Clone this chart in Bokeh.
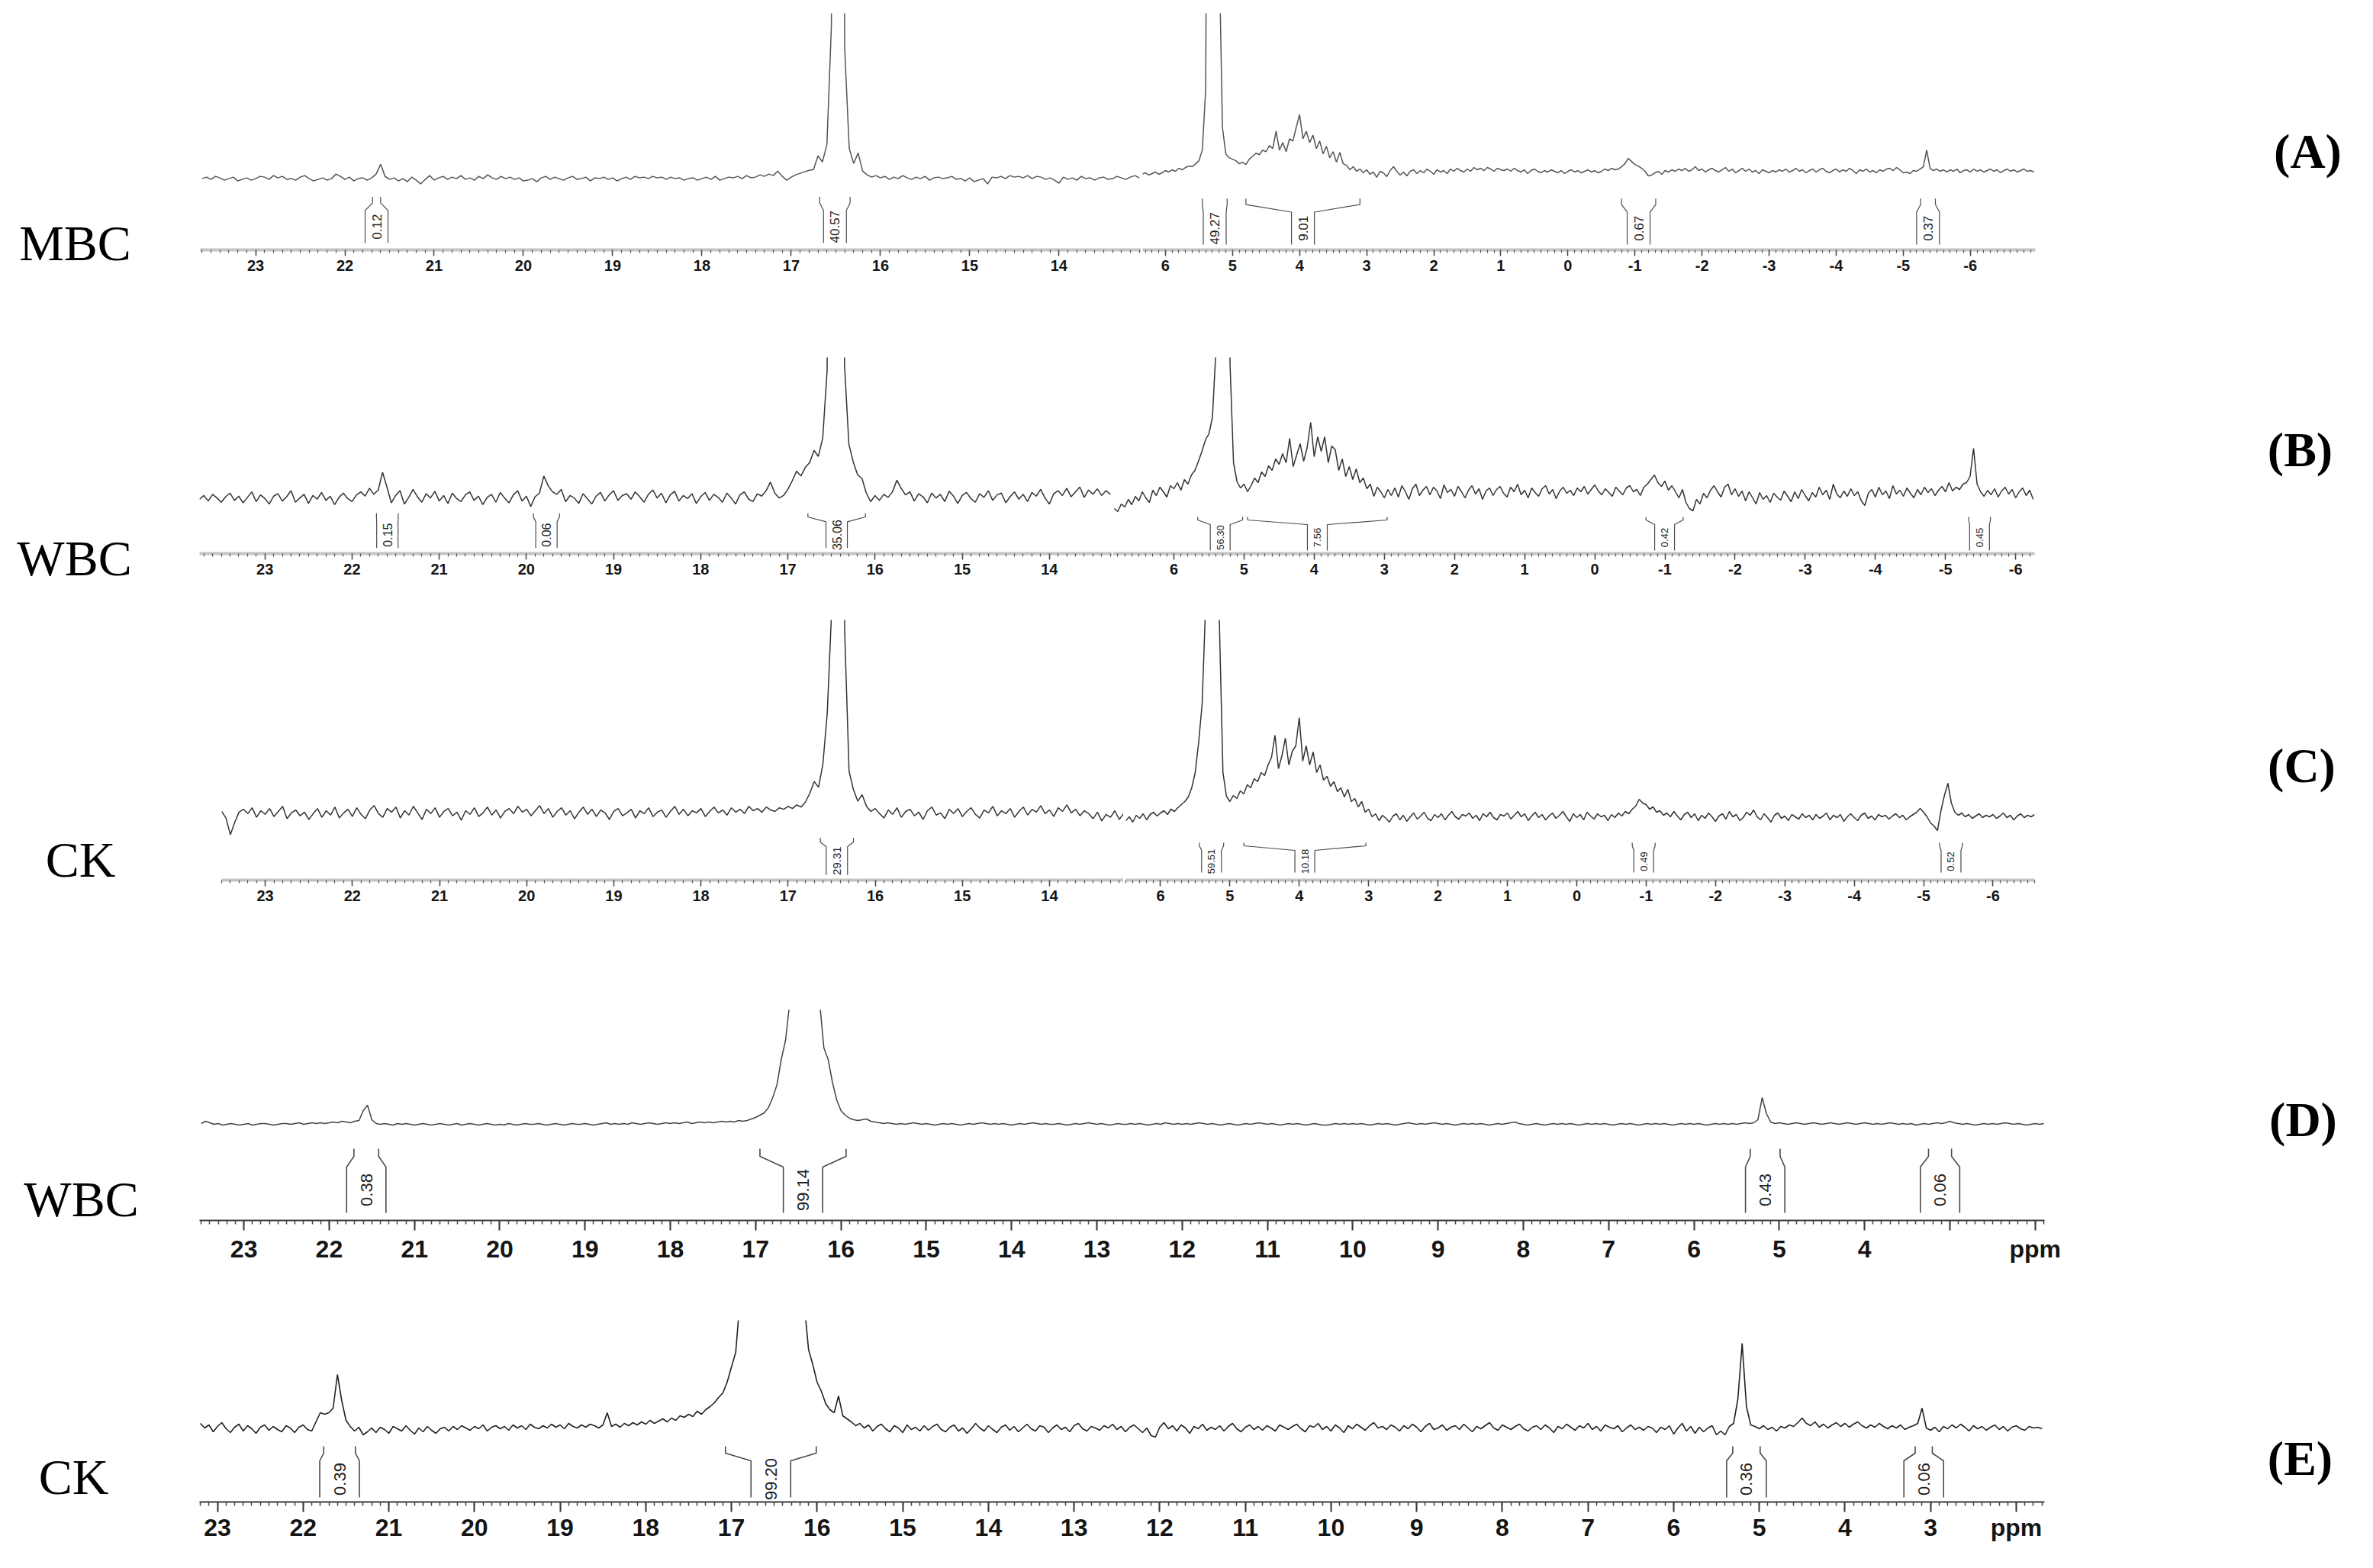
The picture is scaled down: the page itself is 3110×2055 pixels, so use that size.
import numpy as np
from bokeh.plotting import figure
from bokeh.layouts import row, column
from bokeh.models import Range1d, SingleIntervalTicker
from bokeh.core.properties import value
from bokeh.embed import file_html
from bokeh.resources import INLINE

# ---------------- data (intensities, a.u. above each baseline) -------------
PPM_STEP = 0.05

sample_names = ["MBC", "WBC", "CK", "WBC", "CK"]
panel_tags = ["(A)", "(B)", "(C)", "(D)", "(E)"]

# Panel A (MBC) - left segment 23.60 -> 13.10 ppm
A_left_start = 23.60
A_left_int = [
    0, 2, -1, 3, 1, -2, 0, 2, -3, -1,
    1, -2, 0, 3, 2, -1, 4, 1, 3, -1,
    0, -2, 2, 4, 0, -3, -1, 1, -2, 0,
    6, 3, -1, 2, -3, 0, 1, -2, 1, 6,
    19, 3, -1, 1, -3, 0, -4, 2, -2, -7,
    -1, 4, -2, 1, 3, -1, 2, 0, 4, -1,
    1, -2, 3, 0, 5, 1, -1, 3, 0, 2,
    -1, 1, -3, -2, 0, -4, 1, 3, -1, 2,
    0, -2, 1, 3, -1, 0, 2, -3, 1, 0,
    2, -1, 1, -3, 0, 2, -1, 3, 1, 2,
    0, 3, 1, 2, -1, 2, 0, 1, -2, 0,
    1, -2, 0, 2, -1, 3, -2, 0, 2, 1,
    3, 0, 4, 1, 2, 5, 3, 6, 4, 10,
    3, -2, 2, 5, 7, 9, 11, 12, 30, 22,
    45, 200, 999, 999, 170, 40, 20, 34, 10, 5,
    2, 4, 1, 3, -1, 2, 0, 4, 1, -1,
    2, 0, 3, -2, 1, 2, 0, 1, 3, -1,
    0, -3, 1, -4, -2, 0, -7, 2, 1, 3,
    0, 4, 2, 3, 1, 4, 0, 3, 2, -1,
    1, -2, -6, 2, -1, 1, -2, 3, 0, 1,
    -2, 1, 2, -1, 0, 3, 1, -1, 2, 4,
    1]
# Panel A - right segment 6.35 -> -6.95 ppm
A_right_start = 6.35
A_right_int = [
    -2, 0, -3, -1, 1, -2, 0, 3, 1, 4,
    2, 6, 4, 7, 9, 8, 12, 16, 30, 110,
    999, 999, 999, 300, 60, 25, 20, 18, 16, 12,
    14, 11, 18, 22, 26, 24, 30, 28, 36, 32,
    55, 30, 40, 28, 45, 42, 60, 77, 45, 55,
    40, 50, 32, 42, 25, 35, 20, 28, 14, 27,
    12, 10, 4, 8, 2, 5, 0, 4, -2, 1,
    -6, 2, 0, -5, 3, 8, 2, -3, 1, -4,
    2, 4, -1, 3, 0, 5, 2, -2, 4, 1,
    3, -1, 5, 2, 6, 3, 1, 5, 2, 7,
    4, 6, 3, 7, 5, 2, 6, 4, 3, 5,
    2, 6, 3, 1, 4, -1, 3, 5, 2, 0,
    3, 1, 4, 2, 0, 3, -1, 2, 4, 1,
    3, 0, 2, 4, 1, 3, 0, 2, 5, 3,
    6, 4, 5, 8, 12, 19, 15, 11, 9, 6,
    2, -4, -3, 0, 2, -2, 3, 1, 4, 2,
    5, 3, 6, 2, 4, 8, 3, 5, 1, 4,
    6, 3, 1, 4, 7, 2, 5, 0, 3, 6,
    2, 5, 1, 3, -1, 4, 2, 0, 3, 1,
    4, 2, 5, 1, 3, 6, 2, 4, 0, 3,
    5, 1, 4, 6, 2, 0, 3, 5, 1, 4,
    2, 6, 3, -1, 4, 2, 5, 1, 3, 0,
    4, 2, 5, 6, 3, 7, 4, 0, 1, -1,
    3, 2, 5, 8, 30, 6, 3, 5, 2, 4,
    1, 4, 2, 5, 0, 3, 4, 1, 5, 2,
    4, 1, 3, 5, 2, 4, 0, 3, 5, 2,
    4, 1, 3, 5, 2, 3, 1]

# Panel B (WBC) - left 23.75 -> 13.30 ppm
B_left_start = 23.75
B_left_int = [
    0, 6, -3, 8, 2, -5, 4, 10, -2, 5,
    -6, 3, 12, -4, 7, 1, -8, 5, 9, -3,
    4, 14, -5, 2, 8, -7, 6, 0, 11, -2,
    5, -9, 3, 10, 1, -4, 7, 12, 5, 18,
    8, 15, 44, 20, -6, 6, 14, -8, 3, 16,
    4, -5, 9, 2, 13, -3, 6, -7, 10, 1,
    -4, 7, 12, -2, 5, -9, 3, 8, -5, 11,
    2, -6, 7, 14, -3, 5, -12, 4, 10, 38,
    22, 12, 8, 16, -4, 6, 2, -7, 9, 1,
    -8, 5, 11, -3, 7, 14, -2, 6, 9, 0,
    12, 4, -5, 8, 15, 2, 10, -6, 7, 13,
    -3, 6, 1, 9, -7, 4, 11, -2, 8, 3,
    -5, 10, 2, -8, 7, 12, 0, -4, 9, 5,
    14, 28, 10, 2, 6, 16, 30, 46, 38, 52,
    60, 80, 70, 100, 210, 999, 999, 999, 220, 90,
    61, 40, 34, 10, -4, 6, -2, 8, 3, 12,
    31, 18, 7, 12, -3, 9, 4, -6, 10, 2,
    8, -4, 13, 5, -7, 6, 11, 1, -5, 9,
    3, 14, -2, 7, 10, -6, 4, 12, 0, 8,
    -4, 11, 5, 16, 2, -8, 9, 14, 6, 18,
    4, 12, 20, 3, 15, 8, 17, 6, 14, 8]
# Panel B - right 6.85 -> -6.25 ppm
B_right_start = 6.85
B_right_int = [
    -20, -24, -14, -18, -8, -15, -4, -10, 2, -6,
    -12, 4, -3, 8, 2, -5, 10, 6, 14, 4,
    18, 12, 24, 30, 42, 55, 70, 78, 100, 190,
    999, 999, 999, 170, 40, 15, 7, 12, 2, 10,
    20, 14, 28, 22, 36, 30, 45, 38, 52, 40,
    72, 35, 50, 65, 42, 60, 93, 48, 74, 55,
    74, 40, 62, 57, 30, 45, 22, 35, 18, 32,
    14, 20, 6, 12, -4, 8, 2, -6, 5, -3,
    7, -5, 10, 2, -8, 6, 12, -3, 4, 9,
    -2, 8, 3, -7, 11, 1, 5, -4, 9, 2,
    -6, 4, 10, -1, 6, -8, 3, 7, -3, 5,
    9, 0, -5, 8, 2, 12, -2, 4, -6, 7,
    1, -4, 6, 10, -1, 5, -7, 3, 8, 0,
    4, -3, 7, 2, 9, -1, 5, 11, 3, -2,
    6, 1, -4, 8, 3, -2, 7, 10, 2, 5,
    -3, 8, 12, 18, 24, 14, 9, 16, 4, 10,
    2, -6, 5, -12, -20, -23, -8, -14, 0, -6,
    4, 10, 2, -5, 8, 12, -2, 6, -4, 3,
    -10, 2, -6, -14, 1, -8, -3, -12, 0, -5,
    -9, 3, -4, -11, 2, -7, 5, -3, -10, 1,
    -5, 8, -2, 4, -8, 12, -1, -6, 3, -4,
    6, -3, 2, -10, -16, 0, 5, -5, 8, -2,
    3, -7, 10, -1, 4, -4, 7, 0, -6, 5,
    -2, 8, 1, 6, -3, 4, 9, 2, 14, 3,
    8, 5, 12, 14, 22, 59, 12, 2, -4, 4,
    -2, 6, -5, 3, 8, -1, 5, -6, 2, 7,
    -3, 4, -8]

# Panel C (CK) - left 23.50 -> 13.15 ppm
C_left_start = 23.50
C_left_int = [
    5, -4, -27, -10, 4, 8, 2, 10, -3, 6,
    1, 9, -2, 5, 12, -5, 3, 7, -1, 4,
    -6, 2, 9, -3, 6, 0, 11, -4, 3, 8,
    -2, 10, 1, -5, 7, 13, 2, -3, 9, 4,
    11, -4, 6, 0, 12, 3, -6, 8, 2, 10,
    -3, 5, 9, -1, 4, -7, 6, 1, 10, -2,
    3, 11, 0, 7, -4, 5, 9, 2, 12, 4,
    8, -1, 6, 13, 2, 9, -3, 5, 10, 0,
    6, -5, 4, 11, 1, 8, -2, 7, 3, -6,
    5, 9, -1, 3, 8, -4, 6, 2, 10, -2,
    4, 7, -3, 5, 12, 1, 8, -1, 6, 3,
    9, -2, 5, 11, 3, 7, 0, 10, 4, 8,
    2, 12, 6, 9, 4, 11, 7, 5, 10, 8,
    12, 9, 14, 11, 18, 30, 46, 38, 70, 140,
    280, 999, 999, 250, 60, 35, 19, 28, 12, 5,
    9, 2, -4, 7, 1, 10, -3, 5, 8, -1,
    4, -6, 6, 11, 0, 3, -5, 8, 2, 9,
    -2, 5, 10, 1, -4, 7, 3, 12, -1, 6,
    2, 9, -3, 5, 11, 0, 8, 4, 13, 2,
    7, -2, 10, 5, 14, 3, 8, -1, 6, 2,
    -5, 4, -8, 1, -3, 6, -6, 2]
# Panel C - right 6.50 -> -6.60 ppm
C_right_start = 6.50
C_right_int = [
    -3, 2, -5, 4, 0, 6, -2, 5, 8, 3,
    7, 10, 5, 12, 9, 14, 18, 22, 28, 40,
    60, 100, 150, 280, 999, 999, 999, 250, 60, 29,
    22, 30, 26, 36, 32, 44, 40, 52, 48, 60,
    56, 70, 80, 109, 65, 82, 105, 70, 88, 95,
    132, 75, 95, 70, 87, 60, 70, 50, 55, 42,
    48, 35, 40, 28, 38, 22, 26, 15, 22, 8,
    12, 2, 6, -3, 4, 0, -5, 3, 6, -2,
    4, -4, 2, 7, -1, 3, 8, 0, -3, 5,
    1, 6, -2, 4, 9, 2, -1, 5, 3, 7,
    0, 4, -3, 6, 2, 8, 1, -2, 5, 3,
    7, -1, 4, 9, 2, 6, -3, 3, 8, 1,
    5, -2, 3, 7, 0, 4, 9, 2, -4, 6,
    1, 5, -2, 8, 3, -1, 6, 2, 4, -3,
    5, 1, 7, 3, 9, 6, 12, 16, 25, 20,
    18, 12, 15, 8, 10, 4, 7, 2, 9, 3,
    -2, 5, 8, 1, 6, -3, 4, 0, 7, 2,
    -4, 3, 6, -1, 9, 2, 5, -3, 1, 8,
    4, 11, 2, -2, 6, 1, -5, 4, 7, 0,
    3, -3, 5, 2, -1, 6, 1, 4, -2, 5,
    0, 3, 7, -2, 4, 1, 5, -4, 2, 6,
    1, -3, 4, 7, 0, 3, -2, 5, 2, 4,
    -1, 3, 6, 1, 4, -2, 2, 5, 8, 13,
    8, 2, -6, -10, -16, 10, 30, 46, 20, 8,
    4, 7, 2, 5, 0, 3, 6, 1, 4, 2,
    5, 0, 3, 7, 1, 4, -2, 3, 6, 1,
    4, 2, 5]

# Panel D (WBC) - 23.50 -> 1.90 ppm
D_start = 23.50
D_int = [
    1, 4, 2, 0, 1, -1, 0, 1, 0, -1,
    0, 1, -1, 0, 1, 1, 0, -1, 0, 1,
    1, 0, 1, 2, 0, 1, 2, 1, 2, 1,
    2, 3, 2, 4, 3, 2, 4, 5, 18, 25,
    6, 1, 0, 1, 0, -1, 1, 0, 1, 0,
    -1, 0, 1, 0, -1, 0, 1, 0, -1, 0,
    1, -1, 0, 1, 0, -1, 0, 1, 0, -1,
    0, -1, 1, 0, -1, 0, 1, 0, 0, 1,
    0, -1, 0, 1, 0, -1, 0, 1, 0, 0,
    1, 0, -1, 0, 1, 2, 0, 1, 0, 1,
    0, 2, 1, 0, 1, 2, 1, 0, 1, 2,
    1, 2, 1, 2, 3, 1, 2, 3, 2, 3,
    2, 3, 4, 3, 4, 3, 5, 4, 5, 7,
    9, 12, 15, 22, 35, 52, 85, 110, 160, 999,
    999, 999, 999, 999, 999, 160, 100, 85, 55, 32,
    18, 12, 8, 6, 5, 6, 7, 4, 3, 2,
    1, 2, 1, 0, 1, 0, 1, 2, 1, 0,
    1, 0, -1, 0, 1, 0, 1, 0, -1, 0,
    1, 0, 1, 2, 1, 0, 1, 0, 1, 0,
    -1, 0, 1, 0, 1, 2, 1, 0, 1, 0,
    0, 1, 0, -1, 0, 1, 0, 1, 2, 1,
    0, 1, 0, -1, 0, 1, 0, 0, 1, 0,
    1, 0, -1, 0, 1, 0, 2, 1, 0, 1,
    0, 1, 0, 1, 2, 1, 0, 1, 0, -1,
    0, 1, 0, -1, 0, 1, 0, 1, 2, 1,
    0, 1, 0, -1, 0, 1, 0, 1, 0, -1,
    0, 1, 0, -1, -1, 0, 1, 0, 1, 0,
    1, 0, 1, 0, -1, 0, 1, 0, 1, 0,
    -1, 0, 1, 2, 1, 0, 1, 0, 1, 2,
    1, 0, 1, 0, -1, 0, 1, 0, 1, 0,
    1, 0, -1, 0, 1, 0, 1, 2, 3, 1,
    0, -1, 0, 1, 0, -1, 0, 1, 0, 1,
    0, 1, 0, -1, 0, 1, 0, 1, 0, 1,
    0, -1, 0, 1, 0, 1, 0, -1, 0, 1,
    0, 1, 0, 1, 0, -1, 0, 1, 0, 1,
    0, 1, 0, -1, 0, 1, 0, 1, 0, 1,
    0, 1, 2, 1, 2, 6, 35, 14, 3, 1,
    2, 1, 0, 1, 2, 1, 0, 1, 2, 1,
    0, 1, 2, 1, 0, 1, 2, 1, 0, 1,
    2, 1, 0, 1, 0, 1, 2, 1, 0, 1,
    0, 1, -1, 0, 1, 0, 1, 2, 1, 2,
    4, 2, 1, 0, 1, 0, -1, 0, 1, 0,
    1, 0, 1, 2, 1, 0, 1, 0, -1, 0,
    1, 0, 1]

# Panel E (CK) - 23.20 -> 1.70 ppm
E_start = 23.20
E_int = [
    8, 2, 6, -3, 4, 9, 1, -4, 3, 7,
    -2, 5, 1, -5, 3, 6, -1, 4, 0, -3,
    5, 2, -4, 3, 6, 0, -2, 10, 22, 20,
    22, 28, 72, 38, 12, 4, -2, 3, -7, -3,
    2, -4, 3, 0, -5, 4, 1, -2, 5, -1,
    -6, 2, -3, 4, -1, -5, 1, 3, -2, 4,
    0, 5, 2, -1, 4, 1, 6, -2, 3, 5,
    1, 4, -1, 6, 2, 5, 0, 7, 3, 1,
    5, 2, 7, 3, 6, 1, 8, 4, 2, 6,
    3, 7, 5, 2, 6, 22, 4, 7, 3, 8,
    5, 9, 6, 10, 7, 12, 8, 11, 14, 10,
    15, 12, 18, 16, 20, 17, 24, 20, 26, 30,
    35, 42, 48, 62, 82, 101, 170, 999, 999, 999,
    999, 999, 999, 999, 999, 999, 999, 999, 999, 999,
    999, 165, 105, 85, 62, 50, 34, 26, 22, 44,
    18, 14, 10, 5, 8, 2, 6, -2, 4, 7,
    1, -3, 5, 2, -4, 6, 0, 3, -2, 5,
    -1, 4, 7, 0, -3, 3, 6, -2, 2, -5,
    1, 8, 2, -2, 5, 0, -4, 3, 6, -1,
    4, -3, 2, 7, 1, -2, 5, 3, -4, 2,
    6, 0, 3, -3, 5, 8, 1, -2, 4, 2,
    -1, 5, 2, 7, 0, 4, -3, 3, 6, 1,
    -4, 2, -8, -10, 3, 9, 1, 5, -2, 6,
    2, -5, 4, 1, 7, -1, 3, 0, 5, -2,
    4, 8, 1, -3, 3, 6, 0, 4, -1, 5,
    2, -2, 6, 3, 0, 4, 7, 1, -3, 5,
    3, 8, 0, 4, -2, 6, 2, -4, 5, 1,
    7, 3, -1, 5, 9, 2, 4, 0, 6, 3,
    -2, 5, 1, 7, 3, -3, 4, 8, 0, 2,
    6, -1, 3, 5, 0, 7, 2, -3, 4, 1,
    5, 9, 2, -1, 6, 3, 0, 4, 7, 1,
    -2, 3, 5, 0, 6, 2, -4, 4, 1, 7,
    3, -1, 5, 2, 8, 0, 4, -2, 6, 3,
    1, 5, -3, 2, 6, 0, 3, -1, 4, 2,
    -4, 3, 0, 5, -6, 2, 8, -2, 4, -5,
    3, -3, 2, 5, -7, -2, -7, 4, 8, 40,
    113, 30, 6, 4, 1, 5, 0, 3, -2, 4,
    2, 6, 4, 9, 15, 8, 5, 10, 3, 7,
    2, 6, 9, 4, 8, 3, 7, 10, 5, 2,
    6, 3, 8, 4, 1, 5, 2, 6, 0, 3,
    5, 8, 28, 2, -1, 3, -3, 4, 1, 6,
    2, 7, 3, -2, 5, 1, 4, -1, 3, 6,
    0, 4, -2, 3, 5, 1, -1, 4, 2, 3,
    1]

# integrals: region bounds (ppm) and integral values
A_left_int_lo = [21.69, 16.68]
A_left_int_hi = [21.60, 16.34]
A_left_int_val = ["0.12", "40.57"]
A_right_int_lo = [5.45, 4.80, -0.80, -5.26]
A_right_int_hi = [5.08, 3.10, -1.31, -5.48]
A_right_int_val = ["49.27", "9.01", "0.67", "0.37"]
B_left_int_lo = [21.72, 19.92, 16.77]
B_left_int_hi = [21.47, 19.62, 16.11]
B_left_int_val = ["0.15", "0.06", "35.06"]
B_right_int_lo = [5.66, 4.95, -0.73, -5.33]
B_right_int_hi = [5.02, 2.96, -1.26, -5.64]
B_right_int_val = ["56.30", "7.56", "0.42", "0.45"]
C_left_int_lo = [16.63]
C_left_int_hi = [16.25]
C_left_int_val = ["29.31"]
C_right_int_lo = [5.44, 4.80, -0.80, -5.23]
C_right_int_hi = [5.09, 3.04, -1.13, -5.56]
C_right_int_val = ["59.51", "10.18", "0.49", "0.52"]
D_int_lo = [21.71, 16.95, 5.34, 3.25]
D_int_hi = [21.42, 15.94, 4.99, 2.98]
D_int_val = ["0.38", "99.14", "0.43", "0.06"]
E_int_lo = [21.76, 17.07, 5.31, 3.18]
E_int_hi = [21.39, 16.01, 4.99, 2.98]
E_int_val = ["0.39", "99.20", "0.36", "0.06"]

# ---------------- layout (screen pixels) ----------------
MID_X0, MID_X1 = 254, 2740     # middle column in page coordinates
HYPHEN_LABELS = {-k: "-%d" % k for k in range(1, 8)}


def make_segment(s, start, vals, ilo, ihi, ilab):
    fw = s["x1"] - s["x0"]
    fh = s["fh"]
    p = figure(width=s["width"], height=s["height"],
               x_range=Range1d(s["ppm0"], s["ppm1"]), y_range=Range1d(0, fh),
               output_backend="svg", toolbar_location=None, title=None,
               y_axis_location=None,
               min_border_left=s["mbl"], min_border_right=s["mbr"],
               min_border_top=s["mbt"], min_border_bottom=s["mbb"])
    p.outline_line_color = None
    p.grid.visible = False
    p.background_fill_color = "white"
    p.border_fill_color = "white"

    ppm = start - PPM_STEP * np.arange(len(vals))
    y = s["base"] + np.asarray(vals, dtype=float)
    p.line(ppm, y, line_color=s["lc"], line_width=s["lw"])

    # integral brackets
    scale = fw / (s["ppm0"] - s["ppm1"])
    hw = s["w"] / 2.0 / scale
    top, k1, k2, bot = s["br"]
    xs, ys, cx = [], [], []
    for lo, hi in zip(ilo, ihi):
        c = (lo + hi) / 2.0
        cx.append(c)
        xs.append([lo, lo, c + hw, c + hw]); ys.append([top, k1, k2, bot])
        xs.append([hi, hi, c - hw, c - hw]); ys.append([top, k1, k2, bot])
    p.multi_line(xs, ys, line_color="#4a4a4a", line_width=s["blw"])
    p.text(x=cx, y=[(k2 + bot) / 2.0] * len(cx), text=ilab, angle=np.pi / 2,
           text_align="center", text_baseline="middle",
           text_font=value("Liberation Sans"), text_font_size=s["ifs"],
           text_color="#222222")

    ax = p.xaxis[0]
    ax.ticker = SingleIntervalTicker(interval=1, num_minor_ticks=10)
    ax.major_label_text_font = "Liberation Sans"
    ax.major_label_text_font_style = "bold"
    ax.major_label_text_color = "#151515"
    ax.major_tick_in = 0
    ax.minor_tick_in = 0
    over = dict(HYPHEN_LABELS)
    if s["style"] == "ruler":
        ax.axis_line_color = "#c4c4c4"
        ax.axis_line_width = 4
        ax.major_tick_line_color = "#444444"
        ax.major_tick_line_width = 1.5
        ax.major_tick_out = 8
        ax.minor_tick_line_color = "#555555"
        ax.minor_tick_line_width = 1.2
        ax.minor_tick_out = 4
        ax.major_label_text_font_size = "20px"
        ax.major_label_standoff = 5
    else:
        ax.axis_line_color = "#3a3a3a"
        ax.axis_line_width = 2
        ax.major_tick_line_color = "#333333"
        ax.major_tick_line_width = 2
        ax.major_tick_out = 13
        ax.minor_tick_line_color = "#444444"
        ax.minor_tick_line_width = 1.5
        ax.minor_tick_out = 5
        ax.major_label_text_font_size = "32px"
        ax.major_label_standoff = s.get("stand", 5)
        over.update(s["over"])
    ax.major_label_overrides = over
    return p


def seg(x0, x1, fig_left, fig_right, row_top, row_bot, frame_top, axis_y,
        ppm0, ppm1, base, style, br, w, ifs, lc, lw, blw, **kw):
    d = dict(x0=x0, x1=x1, width=fig_right - fig_left, height=row_bot - row_top,
             mbl=x0 - fig_left, mbr=fig_right - x1, mbt=frame_top - row_top,
             mbb=row_bot - axis_y, fh=axis_y - frame_top, ppm0=ppm0, ppm1=ppm1,
             base=base, style=style, br=br, w=w, ifs=ifs, lc=lc, lw=lw, blw=blw)
    d.update(kw)
    return d


# Row A
sA_L = seg(270, 1503, MID_X0, 1503, 8, 392, 25, 337, 23.62, 13.08, 94, "ruler",
           (70, 62, 52, 9), 30, "17px", "#555555", 1.5, 1.2)
sA_R = seg(1505, 2675, 1503, MID_X1, 8, 392, 22, 335, 6.34, -6.97, 102, "ruler",
           (68, 60, 50, 7), 30, "17px", "#555555", 1.5, 1.2)
# Row B
sB_L = seg(269, 1465, MID_X0, 1465, 392, 792, 412, 733, 23.75, 13.28, 89, "ruler",
           (66, 60, 52, 9), 28, "16px", "#333333", 1.5, 1.2)
sB_R = seg(1466, 2674, 1465, MID_X1, 392, 792, 476, 733, 6.87, -6.27, 79, "ruler",
           (48, 44, 38, 4), 26, "13px", "#333333", 1.5, 1.2)
# Row C
sC_L = seg(298, 1480, MID_X0, 1480, 792, 1252, 805, 1161, 23.50, 13.15, 89, "ruler",
           (58, 52, 46, 7), 28, "15px", "#333333", 1.5, 1.2)
sC_R = seg(1483, 2674, 1480, MID_X1, 792, 1252, 820, 1161, 6.50, -6.60, 81, "ruler",
           (49, 45, 39, 10), 26, "13px", "#333333", 1.5, 1.2)
# Row D
sD = seg(254, 2692, MID_X0, MID_X1, 1252, 1700, 1331, 1607, 23.52, 1.89, 126, "plain",
         (94, 84, 70, 10), 52, "22px", "#444444", 1.5, 1.6,
         over={3: "", 2: "ppm"}, stand=6)
# Row E
sE = seg(269, 2687, MID_X0, MID_X1, 1700, 2047, 1738, 1976, 23.21, 1.67, 95, "plain",
         (73, 64, 54, 6), 52, "22px", "#222222", 1.6, 1.6,
         over={2: "ppm"}, stand=2)

pA_L = make_segment(sA_L, A_left_start, A_left_int, A_left_int_lo, A_left_int_hi, A_left_int_val)
pA_R = make_segment(sA_R, A_right_start, A_right_int, A_right_int_lo, A_right_int_hi, A_right_int_val)
pB_L = make_segment(sB_L, B_left_start, B_left_int, B_left_int_lo, B_left_int_hi, B_left_int_val)
pB_R = make_segment(sB_R, B_right_start, B_right_int, B_right_int_lo, B_right_int_hi, B_right_int_val)
pC_L = make_segment(sC_L, C_left_start, C_left_int, C_left_int_lo, C_left_int_hi, C_left_int_val)
pC_R = make_segment(sC_R, C_right_start, C_right_int, C_right_int_lo, C_right_int_hi, C_right_int_val)
pD = make_segment(sD, D_start, D_int, D_int_lo, D_int_hi, D_int_val)
pE = make_segment(sE, E_start, E_int, E_int_lo, E_int_hi, E_int_val)


def label_fig(x0, x1, xs, ys, texts, font_size, bold):
    p = figure(width=x1 - x0, height=2039, x_range=Range1d(x0, x1),
               y_range=Range1d(2047, 8), output_backend="svg", toolbar_location=None,
               title=None, x_axis_location=None, y_axis_location=None,
               min_border_left=0, min_border_right=0, min_border_top=0, min_border_bottom=0)
    p.outline_line_color = None
    p.grid.visible = False
    p.text(x=xs, y=ys, text=texts, text_align="center", text_baseline="middle",
           text_font=value("Liberation Serif"), text_font_size=font_size,
           text_font_style="bold" if bold else "normal", text_color="#000000")
    return p


left_labels = label_fig(8, MID_X0, [106, 105, 113, 114, 104], [326, 739, 1134, 1579, 1943],
                        sample_names, "66px", False)
right_labels = label_fig(MID_X1, 3102, [3032, 3022, 3024, 3026, 3022], [206, 597, 1011, 1475, 1919],
                         panel_tags, "64px", True)

middle = column(row(pA_L, pA_R), row(pB_L, pB_R), row(pC_L, pC_R), pD, pE)
layout = row(left_labels, middle, right_labels)

open("out.html", "w").write(file_html(layout, INLINE))
